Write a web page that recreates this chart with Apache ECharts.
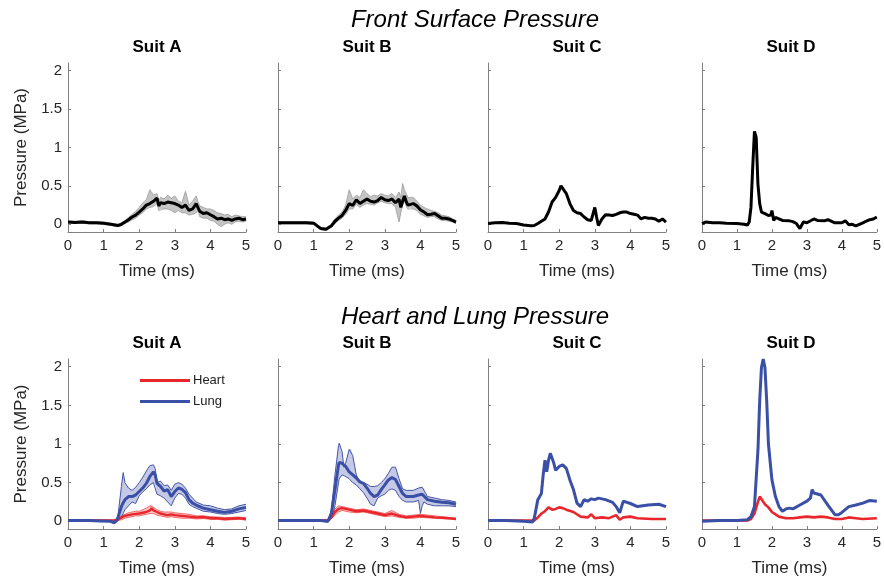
<!DOCTYPE html>
<html><head><meta charset="utf-8">
<script src="https://cdn.jsdelivr.net/npm/echarts@6/dist/echarts.min.js"></script>
<style>html,body{margin:0;padding:0;background:#fff}#c{width:884px;height:581px}</style>
</head><body><div id="c"></div>
<script>
// ---------- tick labels / categories ----------
const xTicks = [0, 1, 2, 3, 4, 5];
const yTicks = [0, 0.5, 1, 1.5, 2];
const suits = ['Suit A', 'Suit B', 'Suit C', 'Suit D'];
const rowTitles = ['Front Surface Pressure', 'Heart and Lung Pressure'];

// ---------- Front surface pressure ----------
const fa_t    = [0,0.2,0.4,0.6,0.8,1.0,1.2,1.4,1.5,1.6,1.7,1.8,1.9,2.0,2.1,2.2,2.3,2.4,2.5,2.55,2.6,2.7,2.8,2.9,3.0,3.1,3.2,3.3,3.4,3.5,3.6,3.65,3.7,3.8,3.9,4.0,4.1,4.2,4.3,4.4,4.5,4.6,4.7,4.8,4.9,5.0];
const fa_mean = [0.03,0.025,0.03,0.02,0.02,0.015,0.0,-0.015,0.0,0.03,0.06,0.095,0.12,0.16,0.2,0.25,0.27,0.3,0.34,0.24,0.28,0.27,0.29,0.28,0.27,0.25,0.22,0.25,0.18,0.2,0.27,0.25,0.17,0.14,0.15,0.125,0.1,0.07,0.08,0.06,0.07,0.05,0.07,0.08,0.06,0.07];
const fa_hi   = [0.045,0.04,0.045,0.035,0.035,0.03,0.015,0.0,0.02,0.05,0.09,0.13,0.17,0.22,0.28,0.32,0.45,0.38,0.4,0.3,0.35,0.33,0.38,0.34,0.37,0.3,0.28,0.43,0.25,0.3,0.37,0.3,0.24,0.22,0.2,0.2,0.18,0.15,0.14,0.12,0.13,0.1,0.12,0.11,0.1,0.1];
const fa_lo   = [0.015,0.01,0.015,0.005,0.005,0.0,-0.015,-0.03,-0.02,0.01,0.03,0.06,0.08,0.12,0.15,0.2,0.22,0.23,0.27,0.18,0.2,0.2,0.2,0.18,0.15,0.18,0.15,0.15,0.12,0.13,0.15,0.18,0.1,0.08,0.08,0.05,0.04,0.0,-0.03,0.0,0.02,0.0,0.03,0.04,0.03,0.04];

const fb_t    = [0,0.2,0.4,0.6,0.8,1.0,1.1,1.2,1.35,1.5,1.6,1.7,1.8,1.9,2.0,2.1,2.2,2.3,2.4,2.5,2.6,2.7,2.8,2.9,3.0,3.1,3.2,3.3,3.4,3.45,3.5,3.55,3.6,3.65,3.7,3.8,3.9,4.0,4.1,4.2,4.3,4.4,4.5,4.6,4.7,4.8,4.9,5.0];
const fb_mean = [0.02,0.02,0.02,0.02,0.02,0.015,-0.02,-0.055,-0.065,-0.02,0.04,0.08,0.115,0.18,0.27,0.245,0.32,0.27,0.3,0.33,0.3,0.29,0.31,0.35,0.32,0.31,0.33,0.28,0.33,0.22,0.3,0.37,0.3,0.25,0.27,0.27,0.24,0.19,0.16,0.125,0.13,0.14,0.11,0.08,0.08,0.07,0.05,0.03];
const fb_hi   = [0.035,0.035,0.035,0.035,0.035,0.03,0.0,-0.04,-0.05,0.0,0.07,0.12,0.16,0.25,0.45,0.33,0.38,0.35,0.45,0.4,0.36,0.38,0.37,0.4,0.38,0.37,0.4,0.35,0.42,0.35,0.53,0.45,0.4,0.35,0.35,0.35,0.3,0.25,0.22,0.2,0.18,0.17,0.15,0.12,0.11,0.1,0.07,0.05];
const fb_lo   = [0.005,0.005,0.005,0.005,0.005,0.0,-0.035,-0.07,-0.08,-0.04,0.01,0.05,0.08,0.13,0.2,0.2,0.26,0.22,0.25,0.27,0.26,0.25,0.28,0.3,0.28,0.27,0.27,0.22,0.03,0.15,0.25,0.3,0.24,0.2,0.22,0.2,0.18,0.13,0.11,0.09,0.1,0.1,0.07,0.05,0.05,0.04,0.03,0.01];

const fc_t    = [0,0.2,0.4,0.6,0.8,1.0,1.2,1.3,1.4,1.5,1.6,1.7,1.8,1.9,2.0,2.05,2.1,2.2,2.3,2.4,2.5,2.6,2.7,2.8,2.9,2.95,3.0,3.05,3.1,3.2,3.3,3.4,3.5,3.6,3.7,3.8,3.9,4.0,4.1,4.2,4.3,4.4,4.5,4.6,4.7,4.8,4.9,5.0];
const fc_mean = [0.01,0.02,0.025,0.015,0.01,-0.01,-0.02,-0.015,0.01,0.04,0.07,0.16,0.29,0.35,0.44,0.5,0.48,0.4,0.27,0.18,0.15,0.14,0.095,0.06,0.05,0.06,0.22,0.095,-0.015,0.07,0.125,0.12,0.115,0.13,0.15,0.16,0.16,0.14,0.13,0.12,0.07,0.09,0.08,0.08,0.07,0.04,0.07,0.03];

const fd_t    = [0,0.1,0.3,0.5,0.7,1.0,1.2,1.3,1.35,1.4,1.45,1.5,1.52,1.55,1.6,1.65,1.7,1.8,1.9,1.97,2.0,2.05,2.1,2.2,2.3,2.5,2.6,2.7,2.8,2.9,3.0,3.2,3.3,3.5,3.6,3.8,4.0,4.1,4.2,4.3,4.4,4.6,4.7,4.8,4.9,5.0];
const fd_mean = [0.01,0.03,0.02,0.02,0.015,0.01,0.0,-0.01,0.03,0.22,0.74,1.21,1.23,1.13,0.52,0.27,0.16,0.14,0.115,0.12,0.18,0.05,0.09,0.07,0.05,0.045,0.035,0.01,-0.055,0.03,0.02,0.07,0.05,0.045,0.06,0.02,0.02,0.045,-0.005,0.0,-0.02,0.02,0.04,0.06,0.07,0.095];

// ---------- Heart and lung pressure ----------
const la_t    = [0,0.3,0.6,0.9,1.2,1.3,1.4,1.5,1.55,1.6,1.7,1.8,1.9,2.0,2.1,2.2,2.3,2.4,2.45,2.5,2.6,2.7,2.8,2.9,3.0,3.1,3.2,3.3,3.4,3.5,3.6,3.8,4.0,4.2,4.4,4.6,4.8,5.0];
const la_mean = [0.01,0.01,0.01,0.005,0.0,-0.02,0.04,0.19,0.24,0.28,0.32,0.32,0.34,0.385,0.43,0.49,0.58,0.64,0.6,0.49,0.45,0.39,0.41,0.32,0.385,0.43,0.415,0.37,0.28,0.235,0.21,0.17,0.15,0.13,0.115,0.13,0.16,0.18];
const la_hi   = [0.015,0.015,0.015,0.01,0.005,-0.01,0.06,0.45,0.63,0.5,0.43,0.4,0.44,0.5,0.57,0.65,0.72,0.73,0.68,0.5,0.52,0.46,0.47,0.4,0.48,0.5,0.48,0.43,0.35,0.3,0.25,0.21,0.2,0.17,0.15,0.16,0.2,0.22];
const la_lo   = [0.005,0.005,0.005,0.0,-0.005,-0.025,0.0,0.05,0.1,0.15,0.2,0.25,0.23,0.33,0.38,0.42,0.47,0.5,0.48,0.35,0.33,0.3,0.25,0.2,0.3,0.36,0.35,0.3,0.22,0.19,0.17,0.13,0.12,0.1,0.09,0.1,0.12,0.14];

const ha_t    = [0,0.3,0.6,0.9,1.2,1.3,1.4,1.5,1.6,1.7,1.8,1.9,2.0,2.1,2.2,2.3,2.35,2.4,2.5,2.6,2.7,2.8,2.9,3.0,3.2,3.4,3.6,3.8,4.0,4.2,4.4,4.6,4.8,5.0];
const ha_mean = [0.01,0.01,0.01,0.01,0.01,0.01,0.02,0.05,0.07,0.08,0.09,0.095,0.1,0.11,0.12,0.14,0.17,0.14,0.12,0.1,0.09,0.08,0.09,0.08,0.07,0.06,0.05,0.055,0.04,0.04,0.03,0.035,0.04,0.03];
const ha_hi   = [0.015,0.015,0.015,0.015,0.015,0.015,0.03,0.07,0.09,0.11,0.12,0.13,0.13,0.15,0.17,0.2,0.22,0.18,0.15,0.13,0.12,0.12,0.12,0.11,0.1,0.09,0.07,0.07,0.06,0.055,0.05,0.05,0.055,0.045];
const ha_lo   = [0.005,0.005,0.005,0.005,0.005,0.005,0.01,0.02,0.04,0.05,0.06,0.07,0.07,0.08,0.09,0.1,0.11,0.1,0.08,0.07,0.06,0.05,0.06,0.05,0.04,0.04,0.03,0.035,0.025,0.025,0.015,0.02,0.025,0.015];

const lb_t    = [0,0.3,0.6,0.9,1.2,1.4,1.5,1.6,1.7,1.72,1.8,1.85,1.9,2.0,2.05,2.1,2.2,2.3,2.4,2.5,2.6,2.7,2.8,2.9,3.0,3.1,3.2,3.3,3.4,3.5,3.6,3.8,3.95,4.0,4.05,4.1,4.2,4.4,4.6,4.8,5.0];
const lb_mean = [0.01,0.01,0.01,0.01,0.01,0.0,0.1,0.41,0.73,0.76,0.75,0.73,0.71,0.64,0.62,0.6,0.56,0.51,0.49,0.43,0.36,0.32,0.34,0.41,0.47,0.535,0.565,0.54,0.45,0.36,0.32,0.32,0.34,0.36,0.35,0.33,0.28,0.26,0.245,0.24,0.22];
const lb_hi   = [0.015,0.015,0.015,0.015,0.015,0.005,0.15,0.6,0.98,1.01,0.9,0.7,0.75,0.93,0.94,0.85,0.6,0.5,0.5,0.48,0.45,0.45,0.46,0.5,0.55,0.62,0.7,0.7,0.55,0.42,0.4,0.4,0.43,0.45,0.44,0.42,0.32,0.3,0.28,0.27,0.25];
const lb_lo   = [0.005,0.005,0.005,0.005,0.0,-0.01,0.03,0.2,0.5,0.55,0.6,0.6,0.58,0.55,0.53,0.5,0.47,0.42,0.37,0.3,0.22,0.2,0.3,0.33,0.35,0.4,0.42,0.4,0.32,0.27,0.25,0.25,0.27,0.1,0.2,0.25,0.22,0.2,0.2,0.2,0.19];

const hb_t    = [0,0.3,0.6,0.9,1.2,1.4,1.5,1.6,1.7,1.8,1.9,2.0,2.2,2.4,2.6,2.8,3.0,3.2,3.4,3.6,3.8,4.0,4.2,4.4,4.6,4.8,5.0];
const hb_mean = [0.01,0.01,0.01,0.01,0.01,0.015,0.05,0.12,0.16,0.17,0.16,0.15,0.13,0.14,0.12,0.1,0.08,0.1,0.07,0.05,0.06,0.07,0.06,0.05,0.045,0.04,0.03];
const hb_hi   = [0.015,0.015,0.015,0.015,0.015,0.02,0.07,0.16,0.2,0.19,0.18,0.17,0.15,0.16,0.14,0.12,0.1,0.14,0.09,0.07,0.08,0.09,0.08,0.07,0.06,0.05,0.04];
const hb_lo   = [0.005,0.005,0.005,0.005,0.005,0.01,0.03,0.08,0.12,0.14,0.13,0.12,0.11,0.12,0.1,0.08,0.06,0.07,0.05,0.04,0.04,0.05,0.045,0.04,0.035,0.03,0.02];

const lc_t    = [0,0.5,1.0,1.25,1.3,1.4,1.5,1.55,1.6,1.65,1.7,1.75,1.8,1.85,1.9,2.0,2.1,2.2,2.3,2.4,2.5,2.6,2.7,2.8,2.9,3.0,3.1,3.3,3.5,3.6,3.7,3.8,4.0,4.2,4.5,4.8,5.0];
const lc_mean = [0.01,0.01,0.0,-0.01,0.04,0.28,0.36,0.6,0.79,0.64,0.79,0.88,0.9,0.75,0.66,0.71,0.73,0.685,0.535,0.41,0.235,0.19,0.28,0.26,0.29,0.28,0.3,0.28,0.245,0.19,0.11,0.26,0.23,0.19,0.21,0.22,0.19];

const hc_t    = [0,0.5,1.0,1.3,1.4,1.5,1.6,1.7,1.8,1.9,2.0,2.1,2.2,2.4,2.6,2.8,2.9,3.0,3.2,3.4,3.6,3.7,3.8,4.0,4.2,4.6,5.0];
const hc_mean = [0.01,0.01,0.01,0.01,0.05,0.1,0.13,0.18,0.15,0.16,0.18,0.17,0.15,0.12,0.06,0.05,0.09,0.04,0.05,0.04,0.08,0.02,0.05,0.06,0.04,0.03,0.03];

const ld_t    = [0,0.5,1.0,1.3,1.4,1.5,1.6,1.65,1.7,1.75,1.8,1.85,1.9,2.0,2.1,2.2,2.3,2.4,2.5,2.6,2.8,3.0,3.1,3.15,3.2,3.4,3.6,3.8,3.9,4.0,4.2,4.4,4.6,4.8,5.0];
const ld_mean = [0.0,0.01,0.01,0.02,0.06,0.19,0.92,1.56,1.99,2.1,1.99,1.56,1.0,0.535,0.32,0.19,0.13,0.16,0.17,0.16,0.21,0.26,0.3,0.41,0.365,0.34,0.21,0.085,0.085,0.115,0.19,0.21,0.235,0.27,0.26];

const hd_t    = [0,0.5,1.0,1.3,1.4,1.5,1.6,1.65,1.7,1.8,1.9,2.0,2.2,2.4,2.6,2.8,3.0,3.2,3.4,3.6,3.8,4.0,4.2,4.4,4.6,5.0];
const hd_mean = [0.01,0.01,0.01,0.01,0.03,0.1,0.25,0.32,0.3,0.22,0.18,0.12,0.06,0.04,0.04,0.05,0.06,0.05,0.06,0.05,0.03,0.03,0.05,0.04,0.03,0.04];

// ---------- build ----------
const FONT = 'Liberation Sans, Arial, Helvetica, sans-serif';
const lefts = [68, 278, 488, 702];
const W = 178;
const rows = [{top: 63, height: 169}, {top: 359, height: 170}];
const BLACK = '#000000', BLUE = '#3a4fa6', RED = '#e8262b';

const zip = (t, v) => t.map((x, i) => [x, v[i]]);

const grids = [], xAxes = [], yAxes = [], series = [], graphics = [];
for (let r = 0; r < 2; r++) {
  for (let c = 0; c < 4; c++) {
    const gi = r * 4 + c;
    grids.push({left: lefts[c], top: rows[r].top, width: W, height: rows[r].height, containLabel: false});
    xAxes.push({
      type: 'value', gridIndex: gi, min: 0, max: 5, interval: 1,
      name: 'Time (ms)', nameLocation: 'middle', nameGap: 31,
      nameTextStyle: {fontFamily: FONT, fontSize: 17, color: '#262626'},
      axisLine: {show: true, onZero: false, lineStyle: {color: '#808080', width: 1}},
      axisTick: {show: true, inside: true, length: 3, lineStyle: {color: '#808080'}},
      axisLabel: {fontFamily: FONT, fontSize: 15, color: '#262626', margin: 6, customValues: xTicks},
      splitLine: {show: false}
    });
    yAxes.push({
      type: 'value', gridIndex: gi, min: -0.1, max: 2.1,
      name: c === 0 ? 'Pressure (MPa)' : '', nameLocation: 'middle', nameGap: 38, nameRotate: 90,
      nameTextStyle: {fontFamily: FONT, fontSize: 17, color: '#262626'},
      axisLine: {show: true, lineStyle: {color: '#808080', width: 1}},
      axisTick: {show: true, inside: true, length: 3, customValues: yTicks, lineStyle: {color: '#808080'}},
      axisLabel: {show: c === 0, fontFamily: FONT, fontSize: 15, color: '#262626', margin: 6, customValues: yTicks},
      splitLine: {show: false}
    });
    graphics.push({type: 'text', x: lefts[c] + W / 2, y: rows[r].top - 16,
      style: {text: suits[c], fontFamily: FONT, fontSize: 17, fontWeight: 'bold', fill: '#000', align: 'center', verticalAlign: 'middle'}});
  }
}
graphics.push({type: 'text', x: 475, y: 20, style: {text: rowTitles[0], fontFamily: FONT, fontSize: 24, fontStyle: 'italic', fill: '#000', align: 'center', verticalAlign: 'middle'}});
graphics.push({type: 'text', x: 475, y: 317, style: {text: rowTitles[1], fontFamily: FONT, fontSize: 24, fontStyle: 'italic', fill: '#000', align: 'center', verticalAlign: 'middle'}});

function band(gi, t, lo, hi, fill, edge, edgeW, z) {
  series.push({
    type: 'custom', xAxisIndex: gi, yAxisIndex: gi, z: z, silent: true,
    data: t.map((x, i) => [x, lo[i], hi[i]]),
    encode: {x: 0, y: [1, 2]},
    renderItem: function (params, api) {
      if (params.dataIndex !== 0) return null;
      const pts = [];
      for (let i = 0; i < t.length; i++) pts.push(api.coord([t[i], hi[i]]));
      for (let i = t.length - 1; i >= 0; i--) pts.push(api.coord([t[i], lo[i]]));
      return {type: 'polygon', shape: {points: pts}, style: {fill: fill, stroke: null}};
    }
  });
  [lo, hi].forEach(function (arr) {
    series.push({type: 'line', name: 'edge', xAxisIndex: gi, yAxisIndex: gi, z: z + 1, silent: true,
      data: zip(t, arr), showSymbol: false, symbol: 'none',
      lineStyle: {color: edge, width: edgeW}});
  });
}
function line(gi, name, t, v, color, w, z) {
  series.push({type: 'line', name: name, xAxisIndex: gi, yAxisIndex: gi, z: z, silent: true,
    data: zip(t, v), showSymbol: false, symbol: 'none',
    itemStyle: {color: color}, lineStyle: {color: color, width: w}});
}

// top row
band(0, fa_t, fa_lo, fa_hi, '#c4c4c4', '#9a9a9a', 0.8, 2);
line(0, 'front', fa_t, fa_mean, BLACK, 3, 5);
band(1, fb_t, fb_lo, fb_hi, '#c4c4c4', '#9a9a9a', 0.8, 2);
line(1, 'front', fb_t, fb_mean, BLACK, 3, 5);
line(2, 'front', fc_t, fc_mean, BLACK, 3, 5);
line(3, 'front', fd_t, fd_mean, BLACK, 3, 5);

// bottom row
band(4, ha_t, ha_lo, ha_hi, 'rgba(240,90,90,0.35)', '#f04a4a', 0.8, 2);
line(4, 'Heart', ha_t, ha_mean, RED, 2.4, 5);
band(4, la_t, la_lo, la_hi, 'rgba(90,100,180,0.35)', '#4356a8', 1, 3);
line(4, 'Lung', la_t, la_mean, BLUE, 3, 6);

band(5, hb_t, hb_lo, hb_hi, 'rgba(240,90,90,0.35)', '#f04a4a', 0.8, 2);
line(5, 'Heart', hb_t, hb_mean, RED, 2.4, 5);
band(5, lb_t, lb_lo, lb_hi, 'rgba(90,100,180,0.35)', '#4356a8', 1, 3);
line(5, 'Lung', lb_t, lb_mean, BLUE, 3, 6);

line(6, 'Heart', hc_t, hc_mean, RED, 2.6, 5);
line(6, 'Lung', lc_t, lc_mean, BLUE, 3, 6);
line(7, 'Heart', hd_t, hd_mean, RED, 2.6, 5);
line(7, 'Lung', ld_t, ld_mean, BLUE, 3, 6);

const chart = echarts.init(document.getElementById('c'), null, {renderer: 'canvas'});
chart.setOption({
  animation: false,
  backgroundColor: '#ffffff',
  grid: grids, xAxis: xAxes, yAxis: yAxes, series: series, graphic: graphics,
  legend: {
    data: ['Heart', 'Lung'], orient: 'vertical', left: 140, top: 374, padding: 0,
    itemWidth: 50, itemHeight: 3, itemGap: 8, icon: 'rect', selectedMode: false,
    textStyle: {fontFamily: FONT, fontSize: 13, color: '#222', padding: [0, 0, 0, -2]}
  }
});
</script></body></html>
